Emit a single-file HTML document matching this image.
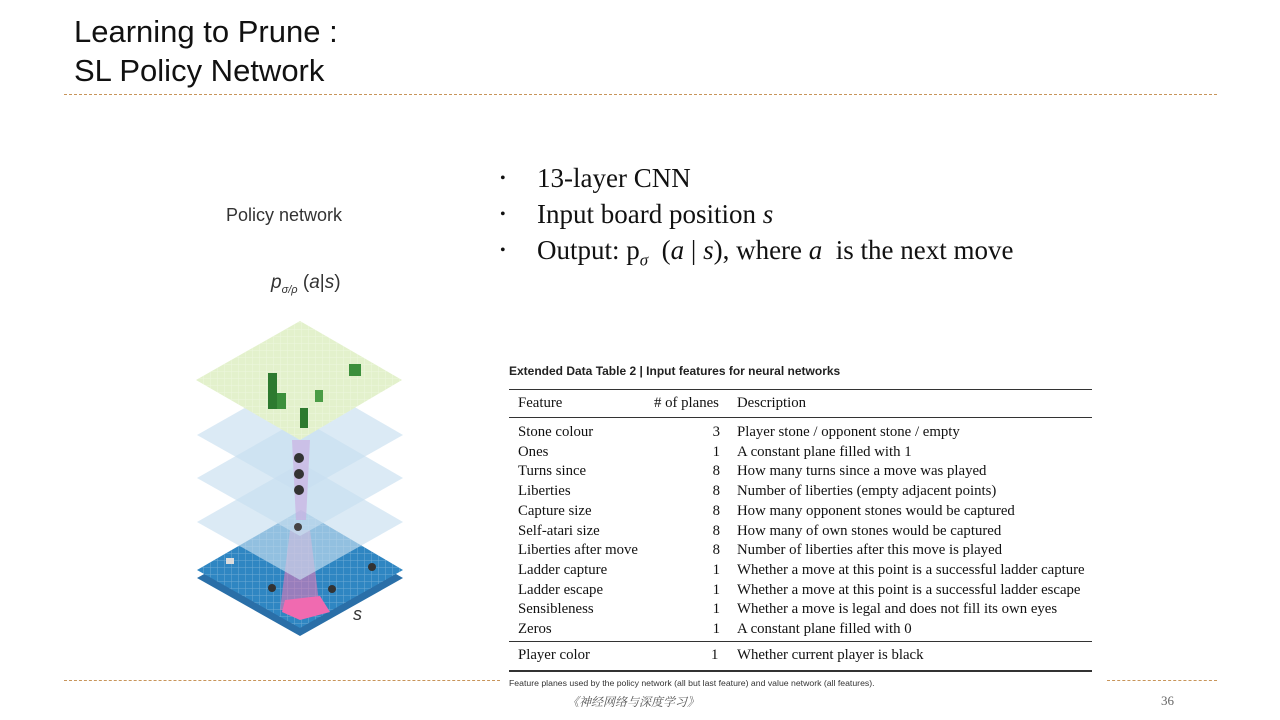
<!DOCTYPE html>
<html><head><meta charset="utf-8"><style>
body{margin:0;width:1280px;height:720px;background:#fff;position:relative;overflow:hidden;font-family:"Liberation Sans",sans-serif}
.t{position:absolute;left:74px;font-size:31px;color:#111;line-height:38px}
.dash{position:absolute;height:0;border-top:1px dashed #c8955a}
.b{position:absolute;left:500px;font-family:"Liberation Serif",serif;font-size:27px;color:#111}
.b span.d{position:absolute;left:0;font-size:16px;top:7px}
.b .x{position:absolute;left:37px;white-space:nowrap}
.tb{position:absolute;font-family:"Liberation Serif",serif;font-size:14.8px;color:#111;white-space:nowrap}
.ln{position:absolute;left:509px;width:583px;background:#333}
</style></head><body>
<div class="t" style="top:13px">Learning to Prune :</div>
<div class="t" style="top:52px">SL Policy Network</div>
<div class="dash" style="left:64px;top:94px;width:1153px"></div>
<div class="dash" style="left:64px;top:680px;width:436px"></div>
<div class="dash" style="left:1107px;top:680px;width:110px"></div>

<div class="b" style="top:163px"><span class="d">•</span><span class="x">13-layer CNN</span></div>
<div class="b" style="top:199px"><span class="d">•</span><span class="x">Input board position <i>s</i></span></div>
<div class="b" style="top:235px"><span class="d">•</span><span class="x">Output: p<sub style="font-size:17px"><i>σ</i></sub> &nbsp;(<i>a</i> | <i>s</i>), where <i>a</i>&nbsp; is the next move</span></div>

<div style="position:absolute;left:226px;top:205px;font-size:18px;color:#333;font-weight:500">Policy network</div>
<div style="position:absolute;left:271px;top:272px;font-size:19px;color:#333"><i>p</i><sub style="font-size:11px"><i>σ/ρ</i></sub> (<i>a</i>|<i>s</i>)</div>
<div style="position:absolute;left:353px;top:604px;font-size:18px;color:#333"><i>s</i></div>

<svg style="position:absolute;left:0;top:0" width="1280" height="720">
<defs>
<pattern id="g" width="7" height="7" patternUnits="userSpaceOnUse"><path d="M0 0H7M0 0V7" stroke="#fff" stroke-width="1" opacity=".6"/></pattern>
</defs>
<polygon points="197,578 301,520 403,578 300,636" fill="#2a6fa8"/>
<polygon points="197,570 301,510 403,570 300,628" fill="#2f86c2"/>
<polygon points="197,570 301,510 403,570 300,628" fill="url(#g)" opacity=".5"/>
<polygon points="290,530 310,530 320,610 280,610" fill="#e07ab8" opacity=".6"/>
<polygon points="285,600 320,596 330,612 300,620 282,612" fill="#f06ab0"/>
<circle cx="372" cy="567" r="4" fill="#333"/><circle cx="332" cy="589" r="4" fill="#333"/><circle cx="272" cy="588" r="4" fill="#333"/>
<rect x="226" y="558" width="8" height="6" fill="#ddd"/>
<polygon points="197,522 301,463 403,522 300,580" fill="#c8def0" opacity=".65"/>
<polygon points="197,478 301,419 403,478 300,536" fill="#c8def0" opacity=".65"/>
<polygon points="197,435 301,376 403,435 300,493" fill="#c8def0" opacity=".65"/>
<polygon points="292,440 310,440 306,520 296,520" fill="#c9a8e0" opacity=".6"/>
<circle cx="299" cy="458" r="5" fill="#333"/><circle cx="299" cy="474" r="5" fill="#333"/><circle cx="299" cy="490" r="5" fill="#333"/>
<circle cx="298" cy="527" r="4" fill="#444"/>
<polygon points="196,380 300,321 402,380 300,440" fill="#e3f1cc"/>
<polygon points="196,380 300,321 402,380 300,440" fill="url(#g)" opacity=".6"/>
<rect x="268" y="373" width="9" height="36" fill="#2d7a2f"/><rect x="277" y="393" width="9" height="16" fill="#3c8f3c"/>
<rect x="300" y="408" width="8" height="20" fill="#2d7a2f"/><rect x="315" y="390" width="8" height="12" fill="#4a9c46"/>
<rect x="349" y="364" width="12" height="12" fill="#3c8f3c"/>
</svg>

<div style="position:absolute;left:509px;top:364px;font-size:12px;font-weight:bold;color:#222">Extended Data Table 2 | Input features for neural networks</div>
<div class="ln" style="top:389px;height:1px"></div>
<div class="ln" style="top:417px;height:1px"></div>
<div class="ln" style="top:641px;height:1px"></div>
<div class="ln" style="top:670px;height:2px"></div>
<div class="tb" style="left:518px;top:395px">Feature</div>
<div class="tb" style="left:654px;top:395px"># of planes</div>
<div class="tb" style="left:737px;top:395px">Description</div>
<div class="tb" style="left:518px;top:423px;line-height:19.7px">Stone colour<br>Ones<br>Turns since<br>Liberties<br>Capture size<br>Self-atari size<br>Liberties after move<br>Ladder capture<br>Ladder escape<br>Sensibleness<br>Zeros</div>
<div class="tb" style="left:708px;top:423px;line-height:19.7px;text-align:right;width:12px">3<br>1<br>8<br>8<br>8<br>8<br>8<br>1<br>1<br>1<br>1</div>
<div class="tb" style="left:737px;top:423px;line-height:19.7px">Player stone / opponent stone / empty<br>A constant plane filled with 1<br>How many turns since a move was played<br>Number of liberties (empty adjacent points)<br>How many opponent stones would be captured<br>How many of own stones would be captured<br>Number of liberties after this move is played<br>Whether a move at this point is a successful ladder capture<br>Whether a move at this point is a successful ladder escape<br>Whether a move is legal and does not fill its own eyes<br>A constant plane filled with 0</div>
<div class="tb" style="left:518px;top:647px">Player color</div>
<div class="tb" style="left:711px;top:647px">1</div>
<div class="tb" style="left:737px;top:647px">Whether current player is black</div>
<div style="position:absolute;left:509px;top:678px;font-size:8.7px;color:#333">Feature planes used by the policy network (all but last feature) and value network (all features).</div>
<div style="position:absolute;left:567px;top:693px;font-size:12px;color:#555;font-family:'Liberation Serif','Noto Serif CJK SC',serif;font-style:italic">《神经网络与深度学习》</div>
<div style="position:absolute;left:1161px;top:693px;font-size:13px;color:#666;font-family:'Liberation Serif',serif">36</div>
</body></html>
